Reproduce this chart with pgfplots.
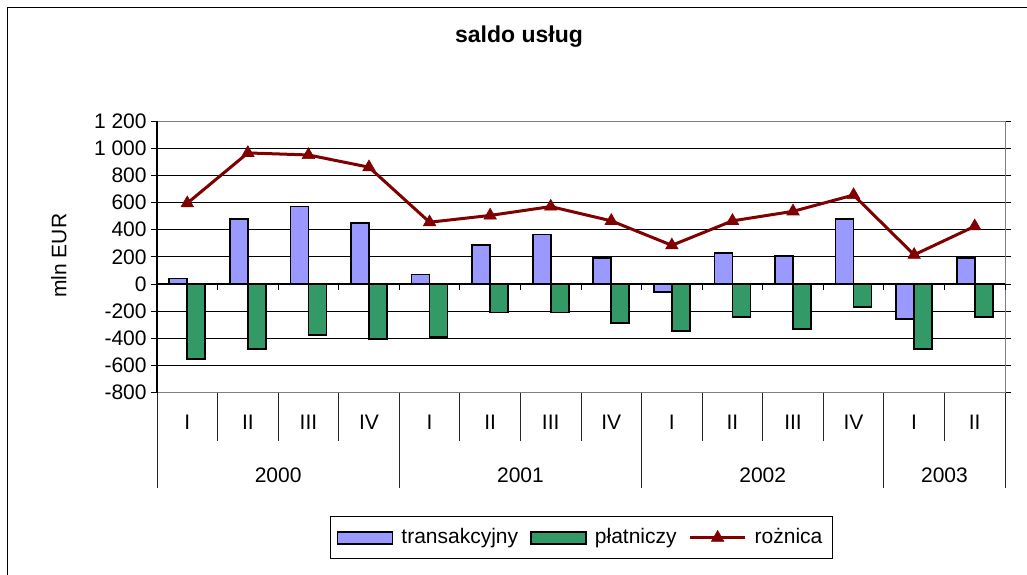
\documentclass[border=0pt]{standalone}
\usepackage{pgfplots}
\pgfplotsset{compat=1.18}
\usepackage{fontspec}
\setmainfont{Liberation Sans}
\definecolor{transc}{HTML}{9999FF}
\definecolor{platc}{HTML}{339966}
\definecolor{rozc}{HTML}{800000}
\pgfplotsset{
  barleg/.style={legend image code/.code={\draw[##1] (0pt,-3pt) rectangle (27.5pt,3pt);}},
  lineleg/.style={legend image code/.code={\draw[mark repeat=2,mark phase=2,##1] plot coordinates {(0pt,0pt) (13.75pt,0pt) (27.5pt,0pt)};}},
}
\begin{document}
\fontsize{10.5pt}{12.5pt}\selectfont
\begin{tikzpicture}
\useasboundingbox (0pt,0pt) rectangle (513.5pt,-287pt);
\draw[black, line width=0.9pt] (3.7pt,-300pt) -- (3.7pt,-3.7pt) -- (530pt,-3.7pt);
\begin{axis}[
  at={(78.5pt,-196.35pt)}, anchor=south west,
  scale only axis, width=424pt, height=135.85pt,
  xmin=-0.5, xmax=13.5, ymin=-800, ymax=1200,
  ybar=0pt, bar width=9pt,
  clip=false,
  axis line style={draw=gray, line width=0.5pt},
  ymajorgrids, grid style={black, line width=0.5pt},
  tick align=outside, major tick length=3pt,
  ytick={-800,-600,-400,-200,0,200,400,600,800,1000,1200},
  yticklabels={-800,-600,-400,-200,0,200,400,600,800,1 000,1 200},
  ytick style={black, line width=0.5pt},
  yticklabel style={inner xsep=2pt},
  xtick={0,...,13},
  xticklabels={I,II,III,IV,I,II,III,IV,I,II,III,IV,I,II},
  xtick style={draw=none},
  xticklabel style={anchor=center, yshift=-12pt},
  title={saldo usług},
  title style={at={(rel axis cs:0.4269,1.266)}, anchor=center, font=\fontsize{11.5pt}{13pt}\selectfont\bfseries},
  ylabel={mln EUR},
  ylabel style={at={(rel axis cs:-0.1156,0.504)}, anchor=center},
  legend columns=3,
  legend style={at={(0.5006,-0.5337)}, anchor=center, draw=black, line width=0.5pt,
    inner xsep=3pt, inner ysep=4pt,
    /tikz/every odd column/.append style={column sep=2pt},
    /tikz/every even column/.append style={column sep=4pt}},
]
\addplot[fill=transc, draw=black, line width=0.9pt, barleg]
  coordinates {(0,40) (1,480) (2,570) (3,450) (4,70) (5,290) (6,365) (7,190)
               (8,-60) (9,230) (10,205) (11,480) (12,-255) (13,190)};
\addlegendentry{transakcyjny}
\addplot[fill=platc, draw=black, line width=0.9pt, barleg]
  coordinates {(0,-551) (1,-477) (2,-373) (3,-403) (4,-390) (5,-210) (6,-210) (7,-284)
               (8,-344) (9,-240) (10,-331) (11,-168) (12,-477) (13,-240)};
\addlegendentry{płatniczy}
\addplot[sharp plot, rozc, line width=1.5pt, mark=triangle*, mark size=3.6pt,
  mark options={fill=rozc, draw=rozc, line width=0.3pt}, lineleg]
  coordinates {(0,595) (1,965) (2,950) (3,860) (4,455) (5,505) (6,570) (7,465)
               (8,285) (9,465) (10,535) (11,655) (12,215) (13,425)};
\addlegendentry{rożnica}
% zero line and its ticks
\draw[black, line width=0.6pt] (axis cs:-0.5,0) -- (axis cs:13.5,0);
\pgfplotsinvokeforeach{-0.5,0.5,1.5,2.5,3.5,4.5,5.5,6.5,7.5,8.5,9.5,10.5,11.5,12.5,13.5}{
  \draw[black, line width=0.5pt] (axis cs:#1,0) -- (axis cs:#1,-44);
}
\draw[black, line width=0.6pt] (rel axis cs:0,0) -- (rel axis cs:0,1);
% category table
\pgfplotsinvokeforeach{0.5,1.5,2.5,4.5,5.5,6.5,8.5,9.5,10.5,12.5}{
  \draw[black!85, line width=0.5pt] (axis cs:#1,-800) -- (axis cs:#1,-1155);
}
\pgfplotsinvokeforeach{-0.5,3.5,7.5,11.5,13.5}{
  \draw[black!85, line width=0.5pt] (axis cs:#1,-800) -- (axis cs:#1,-1501);
}
\node at (axis cs:1.5,-1406) {2000};
\node at (axis cs:5.5,-1406) {2001};
\node at (axis cs:9.5,-1406) {2002};
\node at (axis cs:12.5,-1406) {2003};
\end{axis}
\end{tikzpicture}
\end{document}
